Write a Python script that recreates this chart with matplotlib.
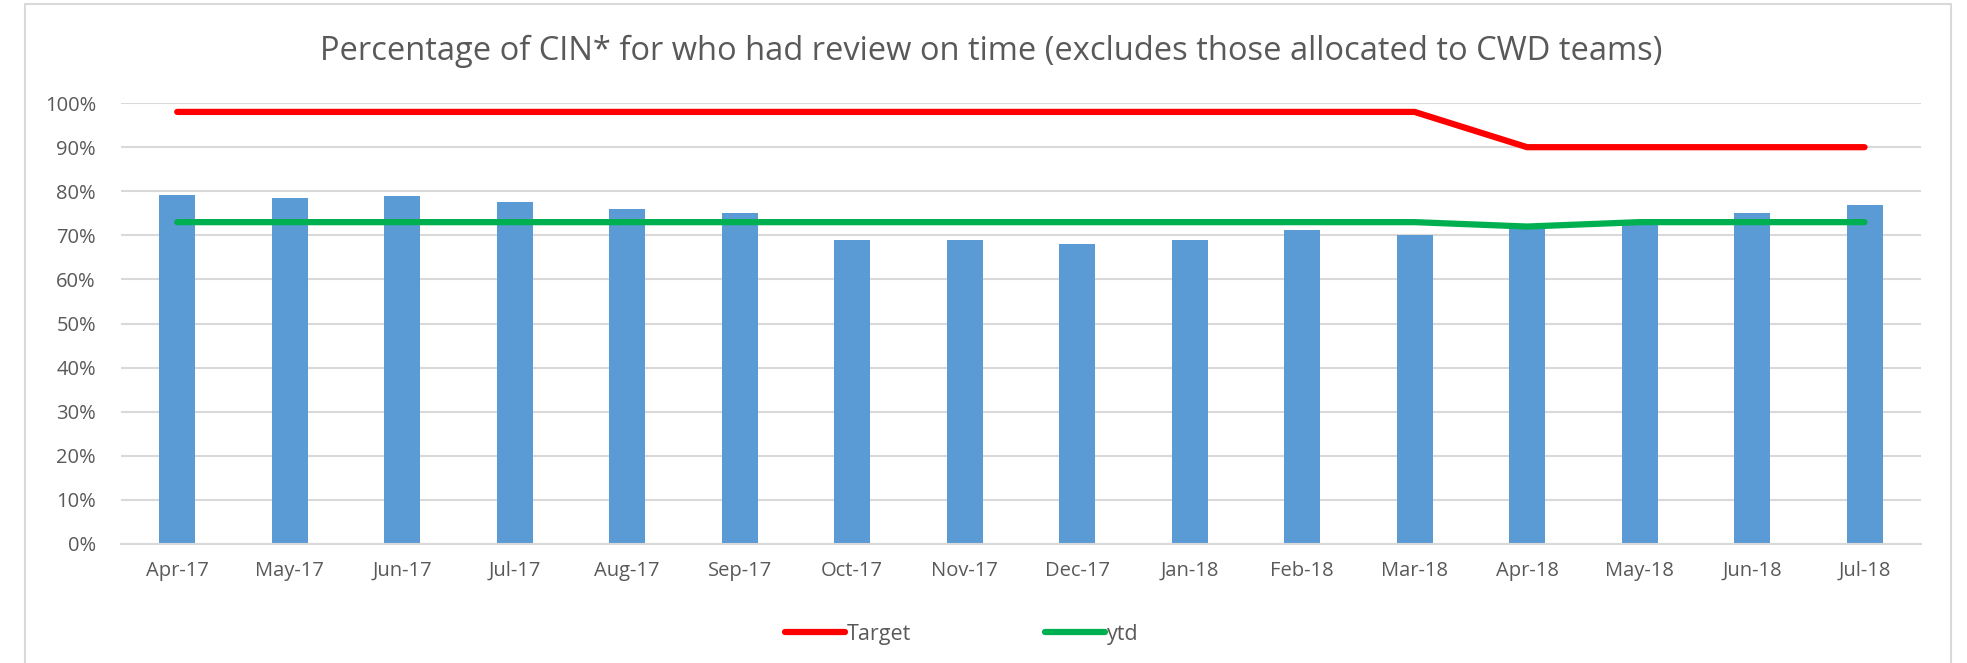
import numpy as np
import matplotlib
matplotlib.use("Agg")
import matplotlib.pyplot as plt
from matplotlib.patches import Rectangle

plt.rcParams['font.family'] = ['Open Sans', 'DejaVu Sans']

months = ['Apr-17', 'May-17', 'Jun-17', 'Jul-17', 'Aug-17', 'Sep-17', 'Oct-17', 'Nov-17',
          'Dec-17', 'Jan-18', 'Feb-18', 'Mar-18', 'Apr-18', 'May-18', 'Jun-18', 'Jul-18']
actual = [79.2, 78.5, 78.9, 77.5, 76.0, 75.0, 69.0, 69.0,
          68.0, 69.0, 71.2, 70.1, 72.5, 73.5, 75.0, 77.0]
target = [98, 98, 98, 98, 98, 98, 98, 98, 98, 98, 98, 98, 90, 90, 90, 90]
ytd = [73, 73, 73, 73, 73, 73, 73, 73, 73, 73, 73, 73, 72, 73, 73, 73]

txt = '#595959'
fig = plt.figure(figsize=(19.67, 6.63), dpi=100)
ax = fig.add_axes([0.0615, 0.1795, 0.915, 0.665])

x = np.arange(len(months))
ax.bar(x, actual, width=0.32, color='#5B9BD5', zorder=2)
ax.plot(x, target, color='#FF0000', lw=4.5, solid_capstyle='round', label='Target', zorder=3)
ax.plot(x, ytd, color='#00B050', lw=4.5, solid_capstyle='round', label='ytd', zorder=3)

ax.set_xlim(-0.5, len(months) - 0.5)
ax.set_ylim(0, 100)
ax.set_yticks(np.arange(0, 101, 10))
ax.set_yticklabels([f'{v}%' for v in range(0, 101, 10)])
ax.set_xticks(x)
ax.set_xticklabels(months)
ax.tick_params(axis='both', length=0, labelsize=14.5, colors=txt, pad=12)
ax.tick_params(axis='y', pad=18)
ax.grid(axis='y', color='#D9D9D9', lw=1.5, zorder=0)
for s in ['top', 'right', 'left']:
    ax.spines[s].set_visible(False)
ax.spines['bottom'].set_color('#D9D9D9')
ax.spines['bottom'].set_linewidth(1.5)

fig.text(0.504, 0.922, 'Percentage of CIN* for who had review on time (excludes those allocated to CWD teams)',
         ha='center', va='center', fontsize=23.5, color=txt)

leg = fig.legend(loc='center', bbox_to_anchor=(0.489, 0.043), ncol=2, frameon=False,
                 fontsize=15.5, handlelength=2.8, handletextpad=0.1, columnspacing=6.2)
for t in leg.get_texts():
    t.set_color(txt)

fig.patches.append(Rectangle((25 / 1967, -0.01), (1951 - 25) / 1967, 1 - 4 / 663 + 0.01,
                             transform=fig.transFigure, fill=False, edgecolor='#D9D9D9', lw=1.5))

fig.savefig('out.png', dpi=100)
